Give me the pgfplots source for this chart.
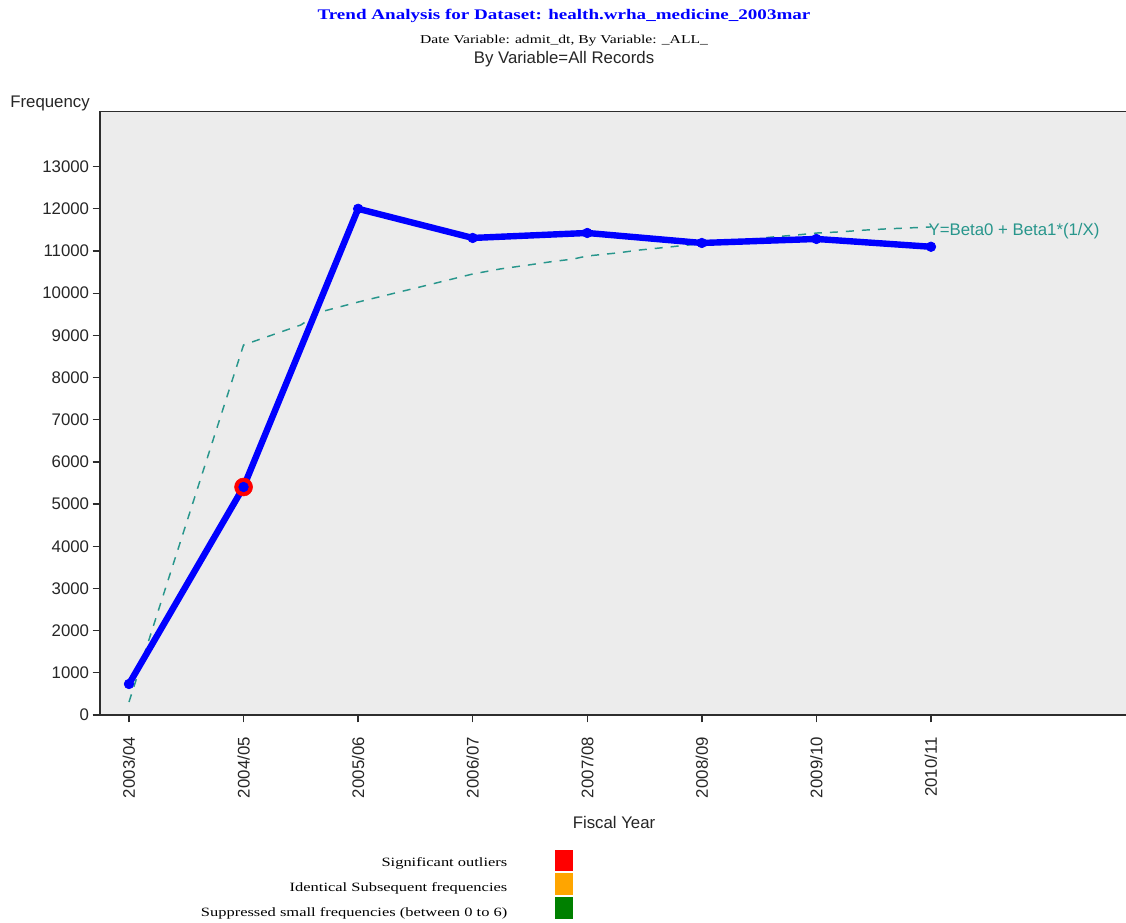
\documentclass[border=0pt]{standalone}
\usepackage{fontspec}
\setmainfont{Liberation Sans}
\newfontfamily\serifwide[FakeStretch=1.3]{Liberation Serif}
\usepackage{pgfplots}
\pgfplotsset{compat=1.18}
\definecolor{trendc}{RGB}{40,150,140}
\definecolor{bgc}{RGB}{236,236,236}
\definecolor{axc}{RGB}{45,45,45}
\definecolor{legred}{RGB}{255,0,0}
\definecolor{legorange}{RGB}{255,165,0}
\definecolor{leggreen}{RGB}{0,128,0}

\pgfplotstableread{
x y
0 735
1 5405
2 12000
3 11309
4 11427
5 11190
6 11285
7 11100
}\freqdata

\pgfplotstableread{
x y
0 308
1 8772
1.5 9246
1.67 9554
2 9790
2.54 10147
3 10455
3.24 10574
3.49 10669
3.67 10740
3.88 10811
4 10882
4.26 10953
4.46 11024
4.63 11071
4.84 11130
5 11175
5.22 11225
5.45 11285
5.62 11332
5.83 11380
6.01 11427
6.22 11455
6.42 11495
6.6 11522
6.8 11546
7 11570
}\trenddata

\begin{document}
\begin{tikzpicture}[x=0.75bp,y=0.75bp]
\useasboundingbox (0,0) rectangle (1126,922);
\fill[white] (0,0) rectangle (1126,922);
\begin{axis}[
  at={(75bp,155.25bp)}, anchor=south west,
  scale only axis, width=771bp, height=452.5bp,
  xmin=-0.253, xmax=8.72, ymin=0, ymax=14303,
  axis background/.style={fill=bgc},
  axis line style={axc, line width=1.1bp},
  xtick={0,1,2,3,4,5,6,7},
  xticklabels={2003/04,2004/05,2005/06,2006/07,2007/08,2008/09,2009/10,2010/11},
  ytick={0,1000,...,13000},
  scaled y ticks=false,
  tick align=outside, tick pos=left,
  major tick length=5.5bp,
  tick style={axc, line width=1bp},
  /pgf/number format/assume math mode=true,
  /pgf/number format/1000 sep={},
  ticklabel style={font=\fontsize{12.6bp}{15bp}\selectfont, text=black!85},
  xticklabel style={rotate=90, anchor=east, inner xsep=11bp},
  yticklabel style={inner sep=2.5bp},
  clip=false,
]
\addplot[trendc, line width=1.1bp, dash pattern=on 6bp off 6bp] table[x=x,y=y] {\trenddata};
\addplot[only marks, mark=*, mark size=6.75bp, draw=red, fill=red] coordinates {(1,5405)};
\addplot[blue, line width=4.8bp, mark=*, mark size=3.6bp, mark options={line width=0.5bp, fill=blue}] table[x=x,y=y] {\freqdata};
\node[anchor=west, text=trendc, inner sep=0pt, font=\fontsize{12.6bp}{15bp}\selectfont] at (axis cs:7,11480) [xshift=-2bp] {Y=Beta0 + Beta1*(1/X)};
\end{axis}
\node[text=blue, font=\serifwide\bfseries\fontsize{11bp}{13bp}\selectfont] at (564,906) {Trend Analysis for Dataset: health.wrha\_medicine\_2003mar};
\node[text=black, font=\serifwide\fontsize{9bp}{11bp}\selectfont] at (564,881) {Date Variable: admit\_dt, By Variable: \_ALL\_};
\node[text=black!85, font=\fontsize{12.6bp}{15bp}\selectfont] at (564,863) {By Variable=All Records};
\node[text=black!85, font=\fontsize{12.6bp}{15bp}\selectfont] at (50,819) {Frequency};
\node[text=black!85, font=\fontsize{12.6bp}{15bp}\selectfont] at (614,100) {Fiscal Year};
\node[anchor=east, font=\serifwide\fontsize{9.5bp}{11bp}\selectfont] at (512,59) {Significant outliers};
\node[anchor=east, font=\serifwide\fontsize{9.5bp}{11bp}\selectfont] at (512,34) {Identical Subsequent frequencies};
\node[anchor=east, font=\serifwide\fontsize{9.5bp}{11bp}\selectfont] at (512,9) {Suppressed small frequencies (between 0 to 6)};
\fill[legred] (555,51) rectangle (573,72);
\fill[legorange] (555,27) rectangle (573,49);
\fill[leggreen] (555,3) rectangle (573,25);
\end{tikzpicture}
\end{document}
